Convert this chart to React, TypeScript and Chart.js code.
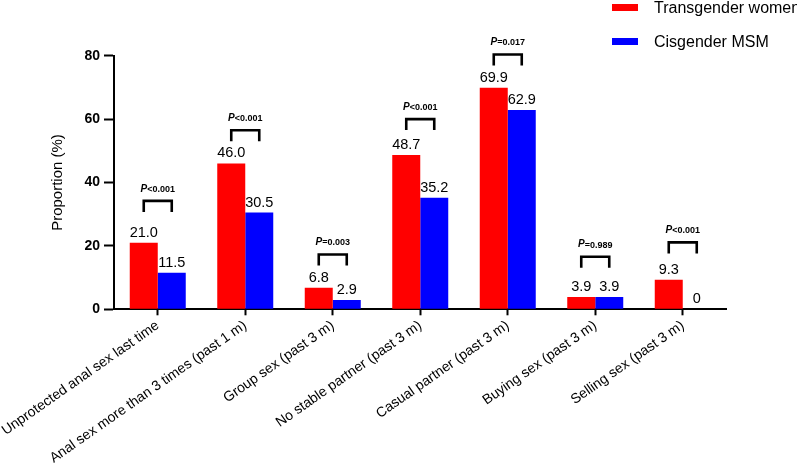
import React, { useEffect, useRef } from "react";
import { Chart, registerables } from "chart.js";

Chart.register(...registerables);

const FONT = 'Arial, "Liberation Sans", sans-serif';

const categories = [
  "Unprotected anal sex last time",
  "Anal sex more than 3 times (past 1 m)",
  "Group sex (past 3 m)",
  "No stable partner (past 3 m)",
  "Casual partner (past 3 m)",
  "Buying sex (past 3 m)",
  "Selling sex (past 3 m)",
];
const seriesNames = ["Transgender women", "Cisgender MSM"];
const transgenderWomen = [21.0, 46.0, 6.8, 48.7, 69.9, 3.9, 9.3];
const cisgenderMSM = [11.5, 30.5, 2.9, 35.2, 62.9, 3.9, 0];
const pSigns = ["<", "<", "=", "<", "=", "=", "<"];
const pValues = ["0.001", "0.001", "0.003", "0.001", "0.017", "0.989", "0.001"];
const bracketLevels = [34.2, 56.5, 17.3, 60.0, 80.4, 16.6, 21.1];
const yTicks = [0, 20, 40, 60, 80];

const colors = ["#FF0000", "#0000FF"];

const fmt = (v: number) => (v === 0 ? "0" : v.toFixed(1));

const annotate = {
  id: "annotate",
  afterDatasetsDraw(chart: any) {
    const ctx = chart.ctx as CanvasRenderingContext2D;
    const m0 = chart.getDatasetMeta(0);
    const m1 = chart.getDatasetMeta(1);
    const ys = chart.scales.y;
    ctx.save();
    ctx.fillStyle = "#000";
    ctx.font = `14.5px ${FONT}`;
    ctx.textAlign = "center";
    ctx.textBaseline = "alphabetic";
    [m0, m1].forEach((meta: any, di: number) => {
      const data = di === 0 ? transgenderWomen : cisgenderMSM;
      meta.data.forEach((bar: any, i: number) => {
        ctx.fillText(fmt(data[i]), bar.x, bar.y - 6);
      });
    });

    // significance brackets
    ctx.strokeStyle = "#000";
    ctx.lineWidth = 2.6;
    ctx.lineJoin = "miter";
    ctx.lineCap = "butt";
    categories.forEach((_, i) => {
      const x1 = m0.data[i].x;
      const x2 = m1.data[i].x;
      const yTop = ys.getPixelForValue(bracketLevels[i]);
      const yBot = yTop + 11;
      ctx.beginPath();
      ctx.moveTo(x1, yBot);
      ctx.lineTo(x1, yTop);
      ctx.lineTo(x2, yTop);
      ctx.lineTo(x2, yBot);
      ctx.stroke();

      const cx = (x1 + x2) / 2;
      const cy = yTop - 12;
      const fP = `italic bold 10px ${FONT}`;
      const fR = `bold 9px ${FONT}`;
      ctx.font = fP;
      const wP = ctx.measureText("P").width;
      ctx.font = fR;
      const rest = pSigns[i] + pValues[i];
      const wR = ctx.measureText(rest).width;
      const sx = cx - (wP + wR) / 2;
      ctx.textAlign = "left";
      ctx.textBaseline = "middle";
      ctx.font = fP;
      ctx.fillText("P", sx, cy);
      ctx.font = fR;
      ctx.fillText(rest, sx + wP, cy + 0.5);
    });

    // legend
    ctx.textAlign = "left";
    ctx.textBaseline = "alphabetic";
    ctx.font = `16px ${FONT}`;
    const legendY = [4, 38];
    seriesNames.forEach((name, i) => {
      ctx.fillStyle = colors[i];
      ctx.fillRect(612, legendY[i], 26, 7);
      ctx.fillStyle = "#000";
      ctx.fillText(name, 654, legendY[i] + 9);
    });
    ctx.restore();
  },
};

export default function App() {
  const ref = useRef<HTMLCanvasElement | null>(null);
  useEffect(() => {
    if (!ref.current) return;
    const chart = new Chart(ref.current, {
      type: "bar",
      data: {
        labels: categories,
        datasets: [
          {
            label: seriesNames[0],
            data: transgenderWomen,
            backgroundColor: colors[0],
            borderWidth: 0,
            categoryPercentage: 0.64,
            barPercentage: 1.0,
          },
          {
            label: seriesNames[1],
            data: cisgenderMSM,
            backgroundColor: colors[1],
            borderWidth: 0,
            categoryPercentage: 0.64,
            barPercentage: 1.0,
          },
        ],
      },
      options: {
        responsive: false,
        animation: false,
        layout: { padding: { top: 55.7, left: 0, right: 70.5, bottom: 0 } },
        plugins: {
          legend: { display: false },
          tooltip: { enabled: false },
        },
        scales: {
          x: {
            offset: true,
            ticks: {
              font: { family: FONT, size: 14 },
              color: "#000",
              autoSkip: false,
              maxRotation: 35,
              minRotation: 35,
              padding: 2,
            },
            grid: {
              display: true,
              drawOnChartArea: false,
              offset: false,
              tickLength: 6,
              tickWidth: 2,
              tickColor: "#000",
              color: "#000",
            },
            border: { display: true, color: "#000", width: 2 },
            afterFit: (s: any) => {
              s.height = 470 - 309.3;
              s.paddingLeft = 0;
              s.paddingRight = 0;
            },
          },
          y: {
            min: 0,
            max: 80,
            afterBuildTicks: (s: any) => {
              s.ticks = yTicks.map((v) => ({ value: v }));
            },
            ticks: {
              font: { family: FONT, size: 14, weight: "bold" },
              color: "#000",
              padding: 4,
            },
            grid: {
              display: true,
              drawOnChartArea: false,
              tickLength: 10,
              tickWidth: 2,
              tickColor: "#000",
              color: "#000",
            },
            border: { display: true, color: "#000", width: 2 },
            title: {
              display: true,
              text: "Proportion (%)",
              font: { family: FONT, size: 15 },
              color: "#000",
              padding: { top: 49, bottom: 0 },
            },
            afterFit: (s: any) => {
              s.width = 114;
            },
          },
        },
      } as any,
      plugins: [annotate],
    });
    return () => chart.destroy();
  }, []);
  return (
    <div style={{ position: "fixed", left: 0, top: 0, width: 797, height: 470, background: "#fff" }}>
      <canvas ref={ref} width={797} height={470} style={{ display: "block" }} />
    </div>
  );
}
